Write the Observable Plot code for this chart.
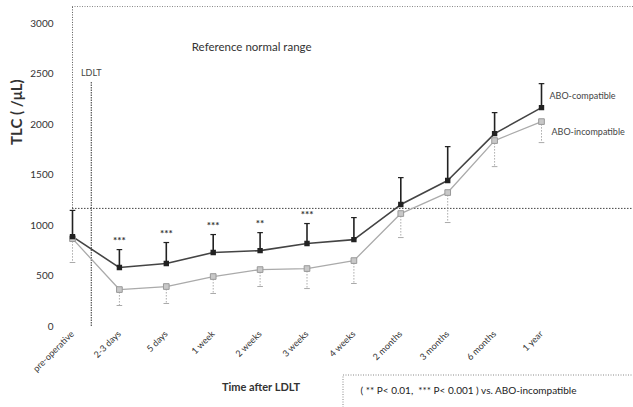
<!DOCTYPE html>
<html><head><meta charset="utf-8">
<script src="https://cdn.jsdelivr.net/npm/d3@7"></script>
<script src="https://cdn.jsdelivr.net/npm/@observablehq/plot@0.6"></script>
<style>
html,body{margin:0;padding:0;background:#fff;}
svg{font-family:Lato, "Liberation Sans", sans-serif;}
</style></head>
<body><div id="chart"></div>
<script>
const categories = ["pre-operative","2-3 days","5 days","1 week","2 weeks","3 weeks","4 weeks","2 months","3 months","6 months","1 year"];
const compatible      = [890, 584, 624, 733, 752, 822, 861, 1208, 1446, 1911, 2168];
const compatibleUpper = [1150, 762, 832, 911, 930, 1020, 1079, 1475, 1782, 2119, 2406];
const incompatible      = [870, 366, 396, 495, 564, 574, 653, 1119, 1327, 1842, 2030];
const incompatibleLower = [634, 208, 228, 327, 396, 376, 426, 881, 1030, 1584, 1822];
const stars = ["", "***", "***", "***", "**", "***", "", "", "", "", ""];
const yTicks = [0, 500, 1000, 1500, 2000, 2500, 3000];
const refLow = 1170, refHigh = 3170;
const ldltPos = 0.4, ldltTop = 2420;

const idx = categories.map((c, i) => i);
const comp = idx.map(i => ({i, v: compatible[i], hi: compatibleUpper[i], s: stars[i]}));
const inc = idx.map(i => ({i, v: incompatible[i], lo: incompatibleLower[i]}));
const capW = 0.06;

const chart = Plot.plot({
  width: 633, height: 407,
  marginLeft: 72, marginRight: 92, marginTop: 3, marginBottom: 81,
  style: {fontFamily: "Lato, 'Liberation Sans', sans-serif", color: "#333", background: "#fff"},
  x: {type: "linear", domain: [0, 10], ticks: idx, tickFormat: i => categories[i], tickRotate: -45, tickSize: 0, tickPadding: 6, label: null},
  y: {domain: [0, 3200], ticks: yTicks, tickFormat: d => String(d), tickSize: 0, tickPadding: 19, label: null},
  marks: [
    // reference normal range box
    Plot.ruleY([refLow], {x1: 0, x2: 12.5, stroke: "#444", strokeDasharray: "1.5,1.5", strokeWidth: 1}),
    Plot.ruleY([refHigh], {x1: 0, x2: 12.5, stroke: "#888", strokeDasharray: "1,1.5", strokeWidth: 1}),
    Plot.ruleX([0], {y1: refLow, y2: refHigh, stroke: "#555", strokeDasharray: "1,1.5", strokeWidth: 1}),
    Plot.text(["Reference normal range"], {x: 3.82, y: 2762, fontSize: 11.5, fill: "#333"}),
    // LDLT line
    Plot.ruleX([ldltPos], {y1: 0, y2: ldltTop, stroke: "#333", strokeDasharray: "1.5,1", strokeWidth: 1}),
    Plot.text(["LDLT"], {x: ldltPos, y: ldltTop + 95, fontSize: 9, fill: "#444"}),
    // incompatible error bars (down, dotted grey)
    Plot.ruleX(inc, {x: "i", y1: "v", y2: "lo", stroke: "#aaa", strokeDasharray: "1.5,1.5", strokeWidth: 1}),
    Plot.link(inc, {x1: d => d.i - capW, x2: d => d.i + capW, y1: "lo", y2: "lo", stroke: "#aaa", strokeWidth: 1}),
    // compatible error bars (up, solid black)
    Plot.ruleX(comp, {x: "i", y1: "v", y2: "hi", stroke: "#222", strokeWidth: 1.6}),
    Plot.link(comp, {x1: d => d.i - capW, x2: d => d.i + capW, y1: "hi", y2: "hi", stroke: "#222", strokeWidth: 1.2}),
    // lines
    Plot.line(inc, {x: "i", y: "v", stroke: "#aaa", strokeWidth: 1.3}),
    Plot.line(comp, {x: "i", y: "v", stroke: "#444", strokeWidth: 1.6}),
    Plot.dot(inc, {x: "i", y: "v", symbol: "square", r: 3.2, fill: "#c8c8c8", stroke: "#999", strokeWidth: 1}),
    Plot.dot(comp, {x: "i", y: "v", symbol: "square", r: 2.2, fill: "#222", stroke: "#222"}),
    // significance stars
    Plot.text(comp.filter(d => d.s), {x: "i", y: "hi", text: "s", dy: -9, fontSize: 10, fontWeight: "bold", fill: "#333"}),
    // series labels
    Plot.text([comp[10]], {x: "i", y: "v", text: () => "ABO-compatible", dx: 8, dy: -12, textAnchor: "start", fontSize: 9, fill: "#444"}),
    Plot.text([inc[10]], {x: "i", y: "v", text: () => "ABO-incompatible", dx: 10, dy: 11, textAnchor: "start", fontSize: 9, fill: "#444"}),
    // axis titles
    Plot.text(["TLC ( /\u03bcL)"], {frameAnchor: "left", dx: -55, dy: -20, rotate: -90, fontSize: 15, fontWeight: "bold", fill: "#333"}),
    Plot.text(["Time after LDLT"], {frameAnchor: "bottom", dx: -46, dy: 64, fontSize: 11, fontWeight: "bold", fill: "#333"}),
    Plot.text(["( ** P< 0.01,  *** P< 0.001 ) vs. ABO-incompatible"], {frameAnchor: "bottom-right", dx: -181, dy: 67, textAnchor: "start", fontSize: 10, fill: "#222"})
  ]
});
// footnote dotted box
const svg = d3.select(chart);
svg.insert("rect", ":first-child").attr("x", 343).attr("y", 375).attr("width", 300).attr("height", 40)
  .attr("fill", "none").attr("stroke", "#888").attr("stroke-dasharray", "1,1.5");
svg.selectAll("g[aria-label='x-axis tick label'] text, g[aria-label='y-axis tick label'] text").attr("fill", "#333");
svg.select("g[aria-label='x-axis tick label']").attr("font-size", 9);
svg.select("g[aria-label='y-axis tick label']").attr("font-size", 10);
document.getElementById("chart").appendChild(chart);
</script></body></html>
